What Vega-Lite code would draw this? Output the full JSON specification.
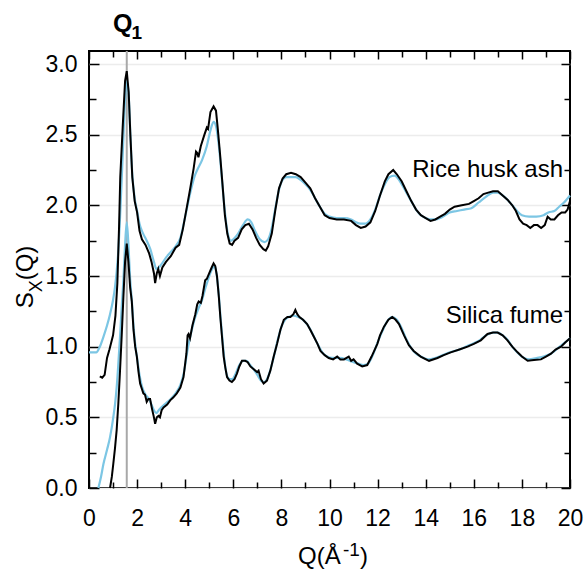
{
  "$schema": "https://vega.github.io/schema/vega-lite/v6.json",
  "width": 481,
  "height": 437,
  "autosize": "none",
  "padding": {"left": 89, "top": 51, "right": 15, "bottom": 87},
  "background": "white",
  "config": {
    "view": {"stroke": "black", "strokeWidth": 2},
    "font": "Liberation Sans",
    "axis": {"labelFont": "Liberation Sans", "labelFontSize": 23, "labelColor": "black", "tickColor": "black", "tickWidth": 1.5, "titleFont": "Liberation Sans", "titleColor": "black", "labelFlush": false, "labelOverlap": false, "labelBound": false}
  },
  "datasets": {
    "sx": [
      {"sample":"Rice husk ash","curve":"black","q":0.45,"s":0.79},{"sample":"Rice husk ash","curve":"black","q":0.55,"s":0.78},{"sample":"Rice husk ash","curve":"black","q":0.65,"s":0.8},{"sample":"Rice husk ash","curve":"black","q":0.75,"s":0.92},{"sample":"Rice husk ash","curve":"black","q":0.85,"s":0.98},{"sample":"Rice husk ash","curve":"black","q":1.0,"s":1.08},{"sample":"Rice husk ash","curve":"black","q":1.1,"s":1.22},{"sample":"Rice husk ash","curve":"black","q":1.18,"s":1.45},{"sample":"Rice husk ash","curve":"black","q":1.25,"s":1.85},{"sample":"Rice husk ash","curve":"black","q":1.3,"s":2.2},{"sample":"Rice husk ash","curve":"black","q":1.4,"s":2.55},{"sample":"Rice husk ash","curve":"black","q":1.5,"s":2.88},{"sample":"Rice husk ash","curve":"black","q":1.57,"s":2.95},{"sample":"Rice husk ash","curve":"black","q":1.65,"s":2.8},{"sample":"Rice husk ash","curve":"black","q":1.72,"s":2.5},{"sample":"Rice husk ash","curve":"black","q":1.8,"s":2.2},{"sample":"Rice husk ash","curve":"black","q":1.9,"s":2.03},{"sample":"Rice husk ash","curve":"black","q":2.0,"s":1.95},{"sample":"Rice husk ash","curve":"black","q":2.1,"s":1.82},{"sample":"Rice husk ash","curve":"black","q":2.2,"s":1.76},{"sample":"Rice husk ash","curve":"black","q":2.35,"s":1.72},{"sample":"Rice husk ash","curve":"black","q":2.5,"s":1.66},{"sample":"Rice husk ash","curve":"black","q":2.6,"s":1.6},{"sample":"Rice husk ash","curve":"black","q":2.7,"s":1.52},{"sample":"Rice husk ash","curve":"black","q":2.75,"s":1.45},{"sample":"Rice husk ash","curve":"black","q":2.82,"s":1.52},{"sample":"Rice husk ash","curve":"black","q":2.88,"s":1.55},{"sample":"Rice husk ash","curve":"black","q":2.95,"s":1.5},{"sample":"Rice husk ash","curve":"black","q":3.05,"s":1.56},{"sample":"Rice husk ash","curve":"black","q":3.2,"s":1.6},{"sample":"Rice husk ash","curve":"black","q":3.4,"s":1.64},{"sample":"Rice husk ash","curve":"black","q":3.6,"s":1.7},{"sample":"Rice husk ash","curve":"black","q":3.75,"s":1.72},{"sample":"Rice husk ash","curve":"black","q":3.9,"s":1.83},{"sample":"Rice husk ash","curve":"black","q":4.05,"s":1.97},{"sample":"Rice husk ash","curve":"black","q":4.2,"s":2.11},{"sample":"Rice husk ash","curve":"black","q":4.35,"s":2.26},{"sample":"Rice husk ash","curve":"black","q":4.45,"s":2.38},{"sample":"Rice husk ash","curve":"black","q":4.5,"s":2.37},{"sample":"Rice husk ash","curve":"black","q":4.55,"s":2.34},{"sample":"Rice husk ash","curve":"black","q":4.65,"s":2.42},{"sample":"Rice husk ash","curve":"black","q":4.8,"s":2.5},{"sample":"Rice husk ash","curve":"black","q":4.9,"s":2.55},{"sample":"Rice husk ash","curve":"black","q":4.95,"s":2.54},{"sample":"Rice husk ash","curve":"black","q":5.05,"s":2.66},{"sample":"Rice husk ash","curve":"black","q":5.18,"s":2.7},{"sample":"Rice husk ash","curve":"black","q":5.28,"s":2.67},{"sample":"Rice husk ash","curve":"black","q":5.35,"s":2.55},{"sample":"Rice husk ash","curve":"black","q":5.45,"s":2.36},{"sample":"Rice husk ash","curve":"black","q":5.55,"s":2.15},{"sample":"Rice husk ash","curve":"black","q":5.65,"s":1.93},{"sample":"Rice husk ash","curve":"black","q":5.75,"s":1.8},{"sample":"Rice husk ash","curve":"black","q":5.85,"s":1.73},{"sample":"Rice husk ash","curve":"black","q":5.95,"s":1.72},{"sample":"Rice husk ash","curve":"black","q":6.05,"s":1.75},{"sample":"Rice husk ash","curve":"black","q":6.2,"s":1.77},{"sample":"Rice husk ash","curve":"black","q":6.35,"s":1.83},{"sample":"Rice husk ash","curve":"black","q":6.5,"s":1.86},{"sample":"Rice husk ash","curve":"black","q":6.65,"s":1.87},{"sample":"Rice husk ash","curve":"black","q":6.8,"s":1.83},{"sample":"Rice husk ash","curve":"black","q":6.95,"s":1.77},{"sample":"Rice husk ash","curve":"black","q":7.1,"s":1.72},{"sample":"Rice husk ash","curve":"black","q":7.25,"s":1.69},{"sample":"Rice husk ash","curve":"black","q":7.35,"s":1.68},{"sample":"Rice husk ash","curve":"black","q":7.45,"s":1.71},{"sample":"Rice husk ash","curve":"black","q":7.6,"s":1.8},{"sample":"Rice husk ash","curve":"black","q":7.75,"s":1.97},{"sample":"Rice husk ash","curve":"black","q":7.9,"s":2.12},{"sample":"Rice husk ash","curve":"black","q":8.05,"s":2.19},{"sample":"Rice husk ash","curve":"black","q":8.2,"s":2.22},{"sample":"Rice husk ash","curve":"black","q":8.4,"s":2.23},{"sample":"Rice husk ash","curve":"black","q":8.6,"s":2.22},{"sample":"Rice husk ash","curve":"black","q":8.8,"s":2.2},{"sample":"Rice husk ash","curve":"black","q":9.0,"s":2.16},{"sample":"Rice husk ash","curve":"black","q":9.2,"s":2.12},{"sample":"Rice husk ash","curve":"black","q":9.4,"s":2.05},{"sample":"Rice husk ash","curve":"black","q":9.6,"s":1.99},{"sample":"Rice husk ash","curve":"black","q":9.8,"s":1.93},{"sample":"Rice husk ash","curve":"black","q":10.0,"s":1.91},{"sample":"Rice husk ash","curve":"black","q":10.3,"s":1.9},{"sample":"Rice husk ash","curve":"black","q":10.6,"s":1.9},{"sample":"Rice husk ash","curve":"black","q":10.9,"s":1.89},{"sample":"Rice husk ash","curve":"black","q":11.1,"s":1.86},{"sample":"Rice husk ash","curve":"black","q":11.3,"s":1.84},{"sample":"Rice husk ash","curve":"black","q":11.5,"s":1.85},{"sample":"Rice husk ash","curve":"black","q":11.7,"s":1.88},{"sample":"Rice husk ash","curve":"black","q":11.9,"s":1.96},{"sample":"Rice husk ash","curve":"black","q":12.1,"s":2.07},{"sample":"Rice husk ash","curve":"black","q":12.3,"s":2.17},{"sample":"Rice husk ash","curve":"black","q":12.45,"s":2.22},{"sample":"Rice husk ash","curve":"black","q":12.65,"s":2.25},{"sample":"Rice husk ash","curve":"black","q":12.8,"s":2.22},{"sample":"Rice husk ash","curve":"black","q":13.0,"s":2.17},{"sample":"Rice husk ash","curve":"black","q":13.2,"s":2.1},{"sample":"Rice husk ash","curve":"black","q":13.4,"s":2.03},{"sample":"Rice husk ash","curve":"black","q":13.6,"s":1.97},{"sample":"Rice husk ash","curve":"black","q":13.8,"s":1.93},{"sample":"Rice husk ash","curve":"black","q":14.0,"s":1.91},{"sample":"Rice husk ash","curve":"black","q":14.2,"s":1.89},{"sample":"Rice husk ash","curve":"black","q":14.4,"s":1.9},{"sample":"Rice husk ash","curve":"black","q":14.6,"s":1.92},{"sample":"Rice husk ash","curve":"black","q":14.8,"s":1.94},{"sample":"Rice husk ash","curve":"black","q":15.0,"s":1.97},{"sample":"Rice husk ash","curve":"black","q":15.2,"s":1.99},{"sample":"Rice husk ash","curve":"black","q":15.5,"s":2.0},{"sample":"Rice husk ash","curve":"black","q":15.8,"s":2.01},{"sample":"Rice husk ash","curve":"black","q":16.0,"s":2.03},{"sample":"Rice husk ash","curve":"black","q":16.2,"s":2.05},{"sample":"Rice husk ash","curve":"black","q":16.4,"s":2.08},{"sample":"Rice husk ash","curve":"black","q":16.6,"s":2.09},{"sample":"Rice husk ash","curve":"black","q":16.8,"s":2.1},{"sample":"Rice husk ash","curve":"black","q":17.0,"s":2.1},{"sample":"Rice husk ash","curve":"black","q":17.2,"s":2.07},{"sample":"Rice husk ash","curve":"black","q":17.4,"s":2.04},{"sample":"Rice husk ash","curve":"black","q":17.6,"s":2.0},{"sample":"Rice husk ash","curve":"black","q":17.75,"s":1.96},{"sample":"Rice husk ash","curve":"black","q":17.9,"s":1.9},{"sample":"Rice husk ash","curve":"black","q":18.05,"s":1.87},{"sample":"Rice husk ash","curve":"black","q":18.2,"s":1.86},{"sample":"Rice husk ash","curve":"black","q":18.35,"s":1.84},{"sample":"Rice husk ash","curve":"black","q":18.5,"s":1.86},{"sample":"Rice husk ash","curve":"black","q":18.65,"s":1.86},{"sample":"Rice husk ash","curve":"black","q":18.8,"s":1.84},{"sample":"Rice husk ash","curve":"black","q":18.95,"s":1.86},{"sample":"Rice husk ash","curve":"black","q":19.07,"s":1.92},{"sample":"Rice husk ash","curve":"black","q":19.2,"s":1.9},{"sample":"Rice husk ash","curve":"black","q":19.35,"s":1.9},{"sample":"Rice husk ash","curve":"black","q":19.5,"s":1.93},{"sample":"Rice husk ash","curve":"black","q":19.65,"s":1.95},{"sample":"Rice husk ash","curve":"black","q":19.8,"s":1.95},{"sample":"Rice husk ash","curve":"black","q":19.9,"s":1.97},{"sample":"Rice husk ash","curve":"black","q":20.0,"s":2.03},

      {"sample":"Rice husk ash","curve":"blue","q":0.0,"s":0.96},{"sample":"Rice husk ash","curve":"blue","q":0.3,"s":0.96},{"sample":"Rice husk ash","curve":"blue","q":0.45,"s":1.0},{"sample":"Rice husk ash","curve":"blue","q":0.6,"s":1.07},{"sample":"Rice husk ash","curve":"blue","q":0.75,"s":1.15},{"sample":"Rice husk ash","curve":"blue","q":0.875,"s":1.23},{"sample":"Rice husk ash","curve":"blue","q":1.0,"s":1.33},{"sample":"Rice husk ash","curve":"blue","q":1.08,"s":1.42},{"sample":"Rice husk ash","curve":"blue","q":1.15,"s":1.53},{"sample":"Rice husk ash","curve":"blue","q":1.22,"s":1.68},{"sample":"Rice husk ash","curve":"blue","q":1.3,"s":1.95},{"sample":"Rice husk ash","curve":"blue","q":1.4,"s":2.35},{"sample":"Rice husk ash","curve":"blue","q":1.5,"s":2.75},{"sample":"Rice husk ash","curve":"blue","q":1.57,"s":2.88},{"sample":"Rice husk ash","curve":"blue","q":1.65,"s":2.78},{"sample":"Rice husk ash","curve":"blue","q":1.72,"s":2.5},{"sample":"Rice husk ash","curve":"blue","q":1.8,"s":2.22},{"sample":"Rice husk ash","curve":"blue","q":1.9,"s":2.05},{"sample":"Rice husk ash","curve":"blue","q":2.0,"s":1.96},{"sample":"Rice husk ash","curve":"blue","q":2.1,"s":1.87},{"sample":"Rice husk ash","curve":"blue","q":2.25,"s":1.8},{"sample":"Rice husk ash","curve":"blue","q":2.4,"s":1.75},{"sample":"Rice husk ash","curve":"blue","q":2.55,"s":1.69},{"sample":"Rice husk ash","curve":"blue","q":2.7,"s":1.6},{"sample":"Rice husk ash","curve":"blue","q":2.8,"s":1.55},{"sample":"Rice husk ash","curve":"blue","q":2.9,"s":1.56},{"sample":"Rice husk ash","curve":"blue","q":3.0,"s":1.58},{"sample":"Rice husk ash","curve":"blue","q":3.2,"s":1.63},{"sample":"Rice husk ash","curve":"blue","q":3.4,"s":1.67},{"sample":"Rice husk ash","curve":"blue","q":3.6,"s":1.71},{"sample":"Rice husk ash","curve":"blue","q":3.8,"s":1.77},{"sample":"Rice husk ash","curve":"blue","q":4.0,"s":1.92},{"sample":"Rice husk ash","curve":"blue","q":4.2,"s":2.08},{"sample":"Rice husk ash","curve":"blue","q":4.4,"s":2.21},{"sample":"Rice husk ash","curve":"blue","q":4.5,"s":2.25},{"sample":"Rice husk ash","curve":"blue","q":4.7,"s":2.32},{"sample":"Rice husk ash","curve":"blue","q":4.9,"s":2.42},{"sample":"Rice husk ash","curve":"blue","q":5.05,"s":2.53},{"sample":"Rice husk ash","curve":"blue","q":5.18,"s":2.59},{"sample":"Rice husk ash","curve":"blue","q":5.28,"s":2.56},{"sample":"Rice husk ash","curve":"blue","q":5.38,"s":2.45},{"sample":"Rice husk ash","curve":"blue","q":5.48,"s":2.28},{"sample":"Rice husk ash","curve":"blue","q":5.58,"s":2.08},{"sample":"Rice husk ash","curve":"blue","q":5.7,"s":1.88},{"sample":"Rice husk ash","curve":"blue","q":5.8,"s":1.78},{"sample":"Rice husk ash","curve":"blue","q":5.9,"s":1.75},{"sample":"Rice husk ash","curve":"blue","q":6.0,"s":1.76},{"sample":"Rice husk ash","curve":"blue","q":6.2,"s":1.8},{"sample":"Rice husk ash","curve":"blue","q":6.4,"s":1.86},{"sample":"Rice husk ash","curve":"blue","q":6.6,"s":1.9},{"sample":"Rice husk ash","curve":"blue","q":6.75,"s":1.88},{"sample":"Rice husk ash","curve":"blue","q":6.9,"s":1.82},{"sample":"Rice husk ash","curve":"blue","q":7.1,"s":1.76},{"sample":"Rice husk ash","curve":"blue","q":7.3,"s":1.74},{"sample":"Rice husk ash","curve":"blue","q":7.45,"s":1.76},{"sample":"Rice husk ash","curve":"blue","q":7.6,"s":1.84},{"sample":"Rice husk ash","curve":"blue","q":7.75,"s":1.98},{"sample":"Rice husk ash","curve":"blue","q":7.9,"s":2.11},{"sample":"Rice husk ash","curve":"blue","q":8.05,"s":2.18},{"sample":"Rice husk ash","curve":"blue","q":8.2,"s":2.2},{"sample":"Rice husk ash","curve":"blue","q":8.4,"s":2.2},{"sample":"Rice husk ash","curve":"blue","q":8.6,"s":2.2},{"sample":"Rice husk ash","curve":"blue","q":8.8,"s":2.18},{"sample":"Rice husk ash","curve":"blue","q":9.0,"s":2.15},{"sample":"Rice husk ash","curve":"blue","q":9.2,"s":2.11},{"sample":"Rice husk ash","curve":"blue","q":9.4,"s":2.05},{"sample":"Rice husk ash","curve":"blue","q":9.6,"s":1.99},{"sample":"Rice husk ash","curve":"blue","q":9.8,"s":1.94},{"sample":"Rice husk ash","curve":"blue","q":10.0,"s":1.92},{"sample":"Rice husk ash","curve":"blue","q":10.3,"s":1.91},{"sample":"Rice husk ash","curve":"blue","q":10.6,"s":1.91},{"sample":"Rice husk ash","curve":"blue","q":10.9,"s":1.9},{"sample":"Rice husk ash","curve":"blue","q":11.1,"s":1.88},{"sample":"Rice husk ash","curve":"blue","q":11.3,"s":1.87},{"sample":"Rice husk ash","curve":"blue","q":11.5,"s":1.87},{"sample":"Rice husk ash","curve":"blue","q":11.7,"s":1.9},{"sample":"Rice husk ash","curve":"blue","q":11.9,"s":1.97},{"sample":"Rice husk ash","curve":"blue","q":12.1,"s":2.07},{"sample":"Rice husk ash","curve":"blue","q":12.3,"s":2.15},{"sample":"Rice husk ash","curve":"blue","q":12.5,"s":2.2},{"sample":"Rice husk ash","curve":"blue","q":12.7,"s":2.21},{"sample":"Rice husk ash","curve":"blue","q":12.85,"s":2.19},{"sample":"Rice husk ash","curve":"blue","q":13.0,"s":2.15},{"sample":"Rice husk ash","curve":"blue","q":13.2,"s":2.09},{"sample":"Rice husk ash","curve":"blue","q":13.4,"s":2.03},{"sample":"Rice husk ash","curve":"blue","q":13.6,"s":1.97},{"sample":"Rice husk ash","curve":"blue","q":13.8,"s":1.93},{"sample":"Rice husk ash","curve":"blue","q":14.0,"s":1.91},{"sample":"Rice husk ash","curve":"blue","q":14.2,"s":1.9},{"sample":"Rice husk ash","curve":"blue","q":14.4,"s":1.9},{"sample":"Rice husk ash","curve":"blue","q":14.6,"s":1.91},{"sample":"Rice husk ash","curve":"blue","q":14.8,"s":1.93},{"sample":"Rice husk ash","curve":"blue","q":15.0,"s":1.95},{"sample":"Rice husk ash","curve":"blue","q":15.3,"s":1.96},{"sample":"Rice husk ash","curve":"blue","q":15.6,"s":1.97},{"sample":"Rice husk ash","curve":"blue","q":15.9,"s":1.98},{"sample":"Rice husk ash","curve":"blue","q":16.2,"s":2.02},{"sample":"Rice husk ash","curve":"blue","q":16.5,"s":2.06},{"sample":"Rice husk ash","curve":"blue","q":16.8,"s":2.09},{"sample":"Rice husk ash","curve":"blue","q":17.0,"s":2.09},{"sample":"Rice husk ash","curve":"blue","q":17.2,"s":2.07},{"sample":"Rice husk ash","curve":"blue","q":17.4,"s":2.04},{"sample":"Rice husk ash","curve":"blue","q":17.6,"s":2.0},{"sample":"Rice husk ash","curve":"blue","q":17.8,"s":1.96},{"sample":"Rice husk ash","curve":"blue","q":18.0,"s":1.93},{"sample":"Rice husk ash","curve":"blue","q":18.3,"s":1.92},{"sample":"Rice husk ash","curve":"blue","q":18.6,"s":1.92},{"sample":"Rice husk ash","curve":"blue","q":18.9,"s":1.93},{"sample":"Rice husk ash","curve":"blue","q":19.1,"s":1.95},{"sample":"Rice husk ash","curve":"blue","q":19.35,"s":1.96},{"sample":"Rice husk ash","curve":"blue","q":19.55,"s":1.99},{"sample":"Rice husk ash","curve":"blue","q":19.75,"s":2.02},{"sample":"Rice husk ash","curve":"blue","q":20.0,"s":2.07},

      {"sample":"Silica fume","curve":"black","q":0.875,"s":0.0},{"sample":"Silica fume","curve":"black","q":0.95,"s":0.08},{"sample":"Silica fume","curve":"black","q":1.01,"s":0.17},{"sample":"Silica fume","curve":"black","q":1.08,"s":0.28},{"sample":"Silica fume","curve":"black","q":1.15,"s":0.41},{"sample":"Silica fume","curve":"black","q":1.22,"s":0.6},{"sample":"Silica fume","curve":"black","q":1.29,"s":0.83},{"sample":"Silica fume","curve":"black","q":1.36,"s":1.08},{"sample":"Silica fume","curve":"black","q":1.43,"s":1.35},{"sample":"Silica fume","curve":"black","q":1.5,"s":1.6},{"sample":"Silica fume","curve":"black","q":1.57,"s":1.73},{"sample":"Silica fume","curve":"black","q":1.64,"s":1.6},{"sample":"Silica fume","curve":"black","q":1.71,"s":1.42},{"sample":"Silica fume","curve":"black","q":1.78,"s":1.32},{"sample":"Silica fume","curve":"black","q":1.85,"s":1.12},{"sample":"Silica fume","curve":"black","q":1.92,"s":1.0},{"sample":"Silica fume","curve":"black","q":1.99,"s":0.93},{"sample":"Silica fume","curve":"black","q":2.06,"s":0.82},{"sample":"Silica fume","curve":"black","q":2.125,"s":0.74},{"sample":"Silica fume","curve":"black","q":2.2,"s":0.7},{"sample":"Silica fume","curve":"black","q":2.26,"s":0.67},{"sample":"Silica fume","curve":"black","q":2.33,"s":0.66},{"sample":"Silica fume","curve":"black","q":2.4,"s":0.61},{"sample":"Silica fume","curve":"black","q":2.47,"s":0.63},{"sample":"Silica fume","curve":"black","q":2.54,"s":0.63},{"sample":"Silica fume","curve":"black","q":2.62,"s":0.56},{"sample":"Silica fume","curve":"black","q":2.7,"s":0.5},{"sample":"Silica fume","curve":"black","q":2.75,"s":0.455},{"sample":"Silica fume","curve":"black","q":2.82,"s":0.5},{"sample":"Silica fume","curve":"black","q":2.89,"s":0.51},{"sample":"Silica fume","curve":"black","q":2.95,"s":0.5},{"sample":"Silica fume","curve":"black","q":3.02,"s":0.55},{"sample":"Silica fume","curve":"black","q":3.1,"s":0.57},{"sample":"Silica fume","curve":"black","q":3.25,"s":0.59},{"sample":"Silica fume","curve":"black","q":3.375,"s":0.62},{"sample":"Silica fume","curve":"black","q":3.5,"s":0.64},{"sample":"Silica fume","curve":"black","q":3.65,"s":0.67},{"sample":"Silica fume","curve":"black","q":3.8,"s":0.71},{"sample":"Silica fume","curve":"black","q":3.93,"s":0.785},{"sample":"Silica fume","curve":"black","q":4.05,"s":0.95},{"sample":"Silica fume","curve":"black","q":4.1,"s":1.08},{"sample":"Silica fume","curve":"black","q":4.14,"s":1.09},{"sample":"Silica fume","curve":"black","q":4.2,"s":1.06},{"sample":"Silica fume","curve":"black","q":4.3,"s":1.15},{"sample":"Silica fume","curve":"black","q":4.42,"s":1.23},{"sample":"Silica fume","curve":"black","q":4.5,"s":1.3},{"sample":"Silica fume","curve":"black","q":4.56,"s":1.32},{"sample":"Silica fume","curve":"black","q":4.65,"s":1.31},{"sample":"Silica fume","curve":"black","q":4.72,"s":1.36},{"sample":"Silica fume","curve":"black","q":4.83,"s":1.47},{"sample":"Silica fume","curve":"black","q":4.9,"s":1.48},{"sample":"Silica fume","curve":"black","q":5.0,"s":1.52},{"sample":"Silica fume","curve":"black","q":5.1,"s":1.56},{"sample":"Silica fume","curve":"black","q":5.18,"s":1.59},{"sample":"Silica fume","curve":"black","q":5.25,"s":1.57},{"sample":"Silica fume","curve":"black","q":5.32,"s":1.5},{"sample":"Silica fume","curve":"black","q":5.4,"s":1.35},{"sample":"Silica fume","curve":"black","q":5.46,"s":1.21},{"sample":"Silica fume","curve":"black","q":5.53,"s":1.07},{"sample":"Silica fume","curve":"black","q":5.6,"s":0.93},{"sample":"Silica fume","curve":"black","q":5.67,"s":0.85},{"sample":"Silica fume","curve":"black","q":5.74,"s":0.785},{"sample":"Silica fume","curve":"black","q":5.84,"s":0.76},{"sample":"Silica fume","curve":"black","q":5.94,"s":0.75},{"sample":"Silica fume","curve":"black","q":6.05,"s":0.77},{"sample":"Silica fume","curve":"black","q":6.15,"s":0.81},{"sample":"Silica fume","curve":"black","q":6.25,"s":0.86},{"sample":"Silica fume","curve":"black","q":6.36,"s":0.9},{"sample":"Silica fume","curve":"black","q":6.5,"s":0.9},{"sample":"Silica fume","curve":"black","q":6.6,"s":0.89},{"sample":"Silica fume","curve":"black","q":6.71,"s":0.86},{"sample":"Silica fume","curve":"black","q":6.85,"s":0.84},{"sample":"Silica fume","curve":"black","q":6.99,"s":0.82},{"sample":"Silica fume","curve":"black","q":7.05,"s":0.83},{"sample":"Silica fume","curve":"black","q":7.15,"s":0.77},{"sample":"Silica fume","curve":"black","q":7.26,"s":0.74},{"sample":"Silica fume","curve":"black","q":7.4,"s":0.76},{"sample":"Silica fume","curve":"black","q":7.54,"s":0.83},{"sample":"Silica fume","curve":"black","q":7.68,"s":0.93},{"sample":"Silica fume","curve":"black","q":7.82,"s":1.02},{"sample":"Silica fume","curve":"black","q":7.96,"s":1.12},{"sample":"Silica fume","curve":"black","q":8.1,"s":1.19},{"sample":"Silica fume","curve":"black","q":8.25,"s":1.21},{"sample":"Silica fume","curve":"black","q":8.375,"s":1.21},{"sample":"Silica fume","curve":"black","q":8.5,"s":1.23},{"sample":"Silica fume","curve":"black","q":8.58,"s":1.26},{"sample":"Silica fume","curve":"black","q":8.66,"s":1.23},{"sample":"Silica fume","curve":"black","q":8.75,"s":1.21},{"sample":"Silica fume","curve":"black","q":8.9,"s":1.19},{"sample":"Silica fume","curve":"black","q":9.07,"s":1.16},{"sample":"Silica fume","curve":"black","q":9.2,"s":1.12},{"sample":"Silica fume","curve":"black","q":9.35,"s":1.07},{"sample":"Silica fume","curve":"black","q":9.5,"s":1.02},{"sample":"Silica fume","curve":"black","q":9.625,"s":0.97},{"sample":"Silica fume","curve":"black","q":9.8,"s":0.94},{"sample":"Silica fume","curve":"black","q":9.97,"s":0.92},{"sample":"Silica fume","curve":"black","q":10.15,"s":0.91},{"sample":"Silica fume","curve":"black","q":10.32,"s":0.93},{"sample":"Silica fume","curve":"black","q":10.45,"s":0.91},{"sample":"Silica fume","curve":"black","q":10.6,"s":0.91},{"sample":"Silica fume","curve":"black","q":10.8,"s":0.93},{"sample":"Silica fume","curve":"black","q":10.9,"s":0.9},{"sample":"Silica fume","curve":"black","q":11.0,"s":0.91},{"sample":"Silica fume","curve":"black","q":11.15,"s":0.88},{"sample":"Silica fume","curve":"black","q":11.36,"s":0.86},{"sample":"Silica fume","curve":"black","q":11.57,"s":0.87},{"sample":"Silica fume","curve":"black","q":11.75,"s":0.93},{"sample":"Silica fume","curve":"black","q":11.99,"s":1.02},{"sample":"Silica fume","curve":"black","q":12.1,"s":1.08},{"sample":"Silica fume","curve":"black","q":12.26,"s":1.14},{"sample":"Silica fume","curve":"black","q":12.45,"s":1.19},{"sample":"Silica fume","curve":"black","q":12.61,"s":1.21},{"sample":"Silica fume","curve":"black","q":12.75,"s":1.19},{"sample":"Silica fume","curve":"black","q":12.89,"s":1.16},{"sample":"Silica fume","curve":"black","q":13.1,"s":1.08},{"sample":"Silica fume","curve":"black","q":13.3,"s":1.01},{"sample":"Silica fume","curve":"black","q":13.5,"s":0.97},{"sample":"Silica fume","curve":"black","q":13.79,"s":0.93},{"sample":"Silica fume","curve":"black","q":14.14,"s":0.9},{"sample":"Silica fume","curve":"black","q":14.49,"s":0.92},{"sample":"Silica fume","curve":"black","q":14.75,"s":0.94},{"sample":"Silica fume","curve":"black","q":15.04,"s":0.96},{"sample":"Silica fume","curve":"black","q":15.4,"s":0.98},{"sample":"Silica fume","curve":"black","q":15.74,"s":1.0},{"sample":"Silica fume","curve":"black","q":16.0,"s":1.02},{"sample":"Silica fume","curve":"black","q":16.29,"s":1.045},{"sample":"Silica fume","curve":"black","q":16.57,"s":1.09},{"sample":"Silica fume","curve":"black","q":16.8,"s":1.1},{"sample":"Silica fume","curve":"black","q":16.99,"s":1.1},{"sample":"Silica fume","curve":"black","q":17.2,"s":1.08},{"sample":"Silica fume","curve":"black","q":17.4,"s":1.045},{"sample":"Silica fume","curve":"black","q":17.6,"s":1.0},{"sample":"Silica fume","curve":"black","q":17.82,"s":0.96},{"sample":"Silica fume","curve":"black","q":18.0,"s":0.93},{"sample":"Silica fume","curve":"black","q":18.24,"s":0.9},{"sample":"Silica fume","curve":"black","q":18.5,"s":0.905},{"sample":"Silica fume","curve":"black","q":18.79,"s":0.91},{"sample":"Silica fume","curve":"black","q":19.0,"s":0.93},{"sample":"Silica fume","curve":"black","q":19.21,"s":0.95},{"sample":"Silica fume","curve":"black","q":19.4,"s":0.98},{"sample":"Silica fume","curve":"black","q":19.625,"s":1.0},{"sample":"Silica fume","curve":"black","q":19.8,"s":1.03},{"sample":"Silica fume","curve":"black","q":20.0,"s":1.06},

      {"sample":"Silica fume","curve":"blue","q":0.39,"s":0.0},{"sample":"Silica fume","curve":"blue","q":0.5,"s":0.08},{"sample":"Silica fume","curve":"blue","q":0.6,"s":0.17},{"sample":"Silica fume","curve":"blue","q":0.75,"s":0.27},{"sample":"Silica fume","curve":"blue","q":0.875,"s":0.36},{"sample":"Silica fume","curve":"blue","q":1.01,"s":0.5},{"sample":"Silica fume","curve":"blue","q":1.08,"s":0.59},{"sample":"Silica fume","curve":"blue","q":1.15,"s":0.71},{"sample":"Silica fume","curve":"blue","q":1.22,"s":0.88},{"sample":"Silica fume","curve":"blue","q":1.29,"s":1.07},{"sample":"Silica fume","curve":"blue","q":1.36,"s":1.28},{"sample":"Silica fume","curve":"blue","q":1.43,"s":1.47},{"sample":"Silica fume","curve":"blue","q":1.5,"s":1.72},{"sample":"Silica fume","curve":"blue","q":1.57,"s":1.88},{"sample":"Silica fume","curve":"blue","q":1.64,"s":1.72},{"sample":"Silica fume","curve":"blue","q":1.71,"s":1.48},{"sample":"Silica fume","curve":"blue","q":1.78,"s":1.33},{"sample":"Silica fume","curve":"blue","q":1.85,"s":1.15},{"sample":"Silica fume","curve":"blue","q":1.92,"s":1.02},{"sample":"Silica fume","curve":"blue","q":2.0,"s":0.92},{"sample":"Silica fume","curve":"blue","q":2.1,"s":0.8},{"sample":"Silica fume","curve":"blue","q":2.2,"s":0.72},{"sample":"Silica fume","curve":"blue","q":2.35,"s":0.66},{"sample":"Silica fume","curve":"blue","q":2.5,"s":0.63},{"sample":"Silica fume","curve":"blue","q":2.6,"s":0.59},{"sample":"Silica fume","curve":"blue","q":2.7,"s":0.55},{"sample":"Silica fume","curve":"blue","q":2.8,"s":0.53},{"sample":"Silica fume","curve":"blue","q":2.9,"s":0.55},{"sample":"Silica fume","curve":"blue","q":3.0,"s":0.57},{"sample":"Silica fume","curve":"blue","q":3.2,"s":0.6},{"sample":"Silica fume","curve":"blue","q":3.4,"s":0.63},{"sample":"Silica fume","curve":"blue","q":3.6,"s":0.67},{"sample":"Silica fume","curve":"blue","q":3.8,"s":0.73},{"sample":"Silica fume","curve":"blue","q":3.95,"s":0.82},{"sample":"Silica fume","curve":"blue","q":4.1,"s":0.98},{"sample":"Silica fume","curve":"blue","q":4.25,"s":1.1},{"sample":"Silica fume","curve":"blue","q":4.4,"s":1.2},{"sample":"Silica fume","curve":"blue","q":4.55,"s":1.27},{"sample":"Silica fume","curve":"blue","q":4.7,"s":1.33},{"sample":"Silica fume","curve":"blue","q":4.85,"s":1.42},{"sample":"Silica fume","curve":"blue","q":5.0,"s":1.5},{"sample":"Silica fume","curve":"blue","q":5.12,"s":1.55},{"sample":"Silica fume","curve":"blue","q":5.22,"s":1.57},{"sample":"Silica fume","curve":"blue","q":5.3,"s":1.52},{"sample":"Silica fume","curve":"blue","q":5.38,"s":1.4},{"sample":"Silica fume","curve":"blue","q":5.46,"s":1.23},{"sample":"Silica fume","curve":"blue","q":5.55,"s":1.05},{"sample":"Silica fume","curve":"blue","q":5.65,"s":0.88},{"sample":"Silica fume","curve":"blue","q":5.75,"s":0.79},{"sample":"Silica fume","curve":"blue","q":5.85,"s":0.77},{"sample":"Silica fume","curve":"blue","q":5.95,"s":0.77},{"sample":"Silica fume","curve":"blue","q":6.1,"s":0.81},{"sample":"Silica fume","curve":"blue","q":6.25,"s":0.87},{"sample":"Silica fume","curve":"blue","q":6.4,"s":0.9},{"sample":"Silica fume","curve":"blue","q":6.55,"s":0.9},{"sample":"Silica fume","curve":"blue","q":6.7,"s":0.87},{"sample":"Silica fume","curve":"blue","q":6.85,"s":0.84},{"sample":"Silica fume","curve":"blue","q":7.0,"s":0.8},{"sample":"Silica fume","curve":"blue","q":7.15,"s":0.76},{"sample":"Silica fume","curve":"blue","q":7.28,"s":0.75},{"sample":"Silica fume","curve":"blue","q":7.4,"s":0.77},{"sample":"Silica fume","curve":"blue","q":7.55,"s":0.84},{"sample":"Silica fume","curve":"blue","q":7.7,"s":0.94},{"sample":"Silica fume","curve":"blue","q":7.85,"s":1.05},{"sample":"Silica fume","curve":"blue","q":8.0,"s":1.14},{"sample":"Silica fume","curve":"blue","q":8.15,"s":1.19},{"sample":"Silica fume","curve":"blue","q":8.3,"s":1.21},{"sample":"Silica fume","curve":"blue","q":8.5,"s":1.22},{"sample":"Silica fume","curve":"blue","q":8.7,"s":1.21},{"sample":"Silica fume","curve":"blue","q":8.9,"s":1.19},{"sample":"Silica fume","curve":"blue","q":9.1,"s":1.15},{"sample":"Silica fume","curve":"blue","q":9.3,"s":1.09},{"sample":"Silica fume","curve":"blue","q":9.5,"s":1.02},{"sample":"Silica fume","curve":"blue","q":9.7,"s":0.96},{"sample":"Silica fume","curve":"blue","q":9.9,"s":0.93},{"sample":"Silica fume","curve":"blue","q":10.1,"s":0.92},{"sample":"Silica fume","curve":"blue","q":10.4,"s":0.92},{"sample":"Silica fume","curve":"blue","q":10.7,"s":0.91},{"sample":"Silica fume","curve":"blue","q":11.0,"s":0.89},{"sample":"Silica fume","curve":"blue","q":11.2,"s":0.88},{"sample":"Silica fume","curve":"blue","q":11.4,"s":0.87},{"sample":"Silica fume","curve":"blue","q":11.6,"s":0.88},{"sample":"Silica fume","curve":"blue","q":11.8,"s":0.94},{"sample":"Silica fume","curve":"blue","q":12.0,"s":1.03},{"sample":"Silica fume","curve":"blue","q":12.2,"s":1.11},{"sample":"Silica fume","curve":"blue","q":12.4,"s":1.18},{"sample":"Silica fume","curve":"blue","q":12.6,"s":1.21},{"sample":"Silica fume","curve":"blue","q":12.8,"s":1.19},{"sample":"Silica fume","curve":"blue","q":13.0,"s":1.13},{"sample":"Silica fume","curve":"blue","q":13.2,"s":1.05},{"sample":"Silica fume","curve":"blue","q":13.4,"s":0.99},{"sample":"Silica fume","curve":"blue","q":13.6,"s":0.95},{"sample":"Silica fume","curve":"blue","q":13.8,"s":0.93},{"sample":"Silica fume","curve":"blue","q":14.1,"s":0.91},{"sample":"Silica fume","curve":"blue","q":14.4,"s":0.92},{"sample":"Silica fume","curve":"blue","q":14.7,"s":0.94},{"sample":"Silica fume","curve":"blue","q":15.0,"s":0.96},{"sample":"Silica fume","curve":"blue","q":15.4,"s":0.98},{"sample":"Silica fume","curve":"blue","q":15.8,"s":1.01},{"sample":"Silica fume","curve":"blue","q":16.2,"s":1.04},{"sample":"Silica fume","curve":"blue","q":16.5,"s":1.08},{"sample":"Silica fume","curve":"blue","q":16.8,"s":1.1},{"sample":"Silica fume","curve":"blue","q":17.0,"s":1.1},{"sample":"Silica fume","curve":"blue","q":17.2,"s":1.08},{"sample":"Silica fume","curve":"blue","q":17.4,"s":1.05},{"sample":"Silica fume","curve":"blue","q":17.6,"s":1.0},{"sample":"Silica fume","curve":"blue","q":17.8,"s":0.96},{"sample":"Silica fume","curve":"blue","q":18.0,"s":0.93},{"sample":"Silica fume","curve":"blue","q":18.3,"s":0.91},{"sample":"Silica fume","curve":"blue","q":18.6,"s":0.92},{"sample":"Silica fume","curve":"blue","q":18.9,"s":0.93},{"sample":"Silica fume","curve":"blue","q":19.2,"s":0.95},{"sample":"Silica fume","curve":"blue","q":19.5,"s":0.99},{"sample":"Silica fume","curve":"blue","q":19.8,"s":1.03},{"sample":"Silica fume","curve":"blue","q":20.0,"s":1.06}
    ]
  },
  "layer": [
    {
      "data": {"values": [{}]},
      "mark": {"type": "rule", "color": "#a8a8a8", "strokeWidth": 2},
      "encoding": {
        "x": {"datum": 1.57, "type": "quantitative", "scale": {"domain": [0, 20], "nice": false, "zero": false}, "axis": null}
      }
    },
    {
      "data": {"name": "sx"},
      "transform": [{"filter": "datum.curve === 'blue'"}],
      "mark": {"type": "line", "color": "#7cc6e4", "strokeWidth": 2.2, "interpolate": "monotone"},
      "encoding": {
        "x": {"field": "q", "type": "quantitative", "scale": {"domain": [0, 20], "nice": false, "zero": false},
          "axis": {"orient": "bottom", "values": [0,1,2,3,4,5,6,7,8,9,10,11,12,13,14,15,16,17,18,19,20],
            "tickSize": {"condition": {"test": "datum.value % 2 === 0", "value": -9}, "value": -6},
            "labelExpr": "datum.value % 2 === 0 ? datum.label : ''", "labelPadding": 28, "domain": false, "grid": false,
            "title": null}},
        "y": {"field": "s", "type": "quantitative", "scale": {"domain": [0, 3.092], "nice": false, "zero": false},
          "axis": {"orient": "left", "values": [0,0.25,0.5,0.75,1,1.25,1.5,1.75,2,2.25,2.5,2.75,3],
            "tickSize": {"condition": {"test": "abs(datum.value*2 - round(datum.value*2)) < 0.001", "value": -10}, "value": -7},
            "labelExpr": "abs(datum.value*2 - round(datum.value*2)) < 0.001 ? format(datum.value, '.1f') : ''",
            "labelPadding": 22, "domain": false, "grid": true, "gridColor": "#ececec", "gridWidth": 1.5,
            "gridOpacity": {"condition": {"test": "abs(datum.value*2 - round(datum.value*2)) < 0.001", "value": 1}, "value": 0},
            "title": null}},
        "detail": {"field": "sample"}
      }
    },
    {
      "data": {"name": "sx"},
      "transform": [{"filter": "datum.curve === 'black'"}],
      "mark": {"type": "line", "color": "black", "strokeWidth": 2},
      "encoding": {
        "x": {"field": "q", "type": "quantitative", "scale": {"domain": [0, 20], "nice": false, "zero": false},
          "axis": {"orient": "top", "values": [0,1,2,3,4,5,6,7,8,9,10,11,12,13,14,15,16,17,18,19,20],
            "tickSize": {"condition": {"test": "datum.value % 2 === 0", "value": -8}, "value": -6},
            "labels": false, "domain": false, "grid": false, "title": null}},
        "y": {"field": "s", "type": "quantitative", "scale": {"domain": [0, 3.092], "nice": false, "zero": false},
          "axis": {"orient": "right", "values": [0,0.25,0.5,0.75,1,1.25,1.5,1.75,2,2.25,2.5,2.75,3],
            "tickSize": {"condition": {"test": "abs(datum.value*2 - round(datum.value*2)) < 0.001", "value": -9}, "value": -6},
            "labels": false, "domain": false, "grid": false, "title": null}},
        "detail": {"field": "sample"}
      }
    },
    {
      "data": {"values": [{}]},
      "mark": {"type": "text", "align": "right", "baseline": "middle", "fontSize": 24, "font": "Liberation Sans", "color": "black"},
      "encoding": {
        "x": {"datum": 19.71, "type": "quantitative", "scale": {"domain": [0, 20], "nice": false, "zero": false}, "axis": null},
        "y": {"datum": 2.25, "type": "quantitative", "scale": {"domain": [0, 3.092], "nice": false, "zero": false}, "axis": null},
        "text": {"value": "Rice husk ash"}
      }
    },
    {
      "data": {"values": [{}]},
      "mark": {"type": "text", "align": "right", "baseline": "middle", "fontSize": 24, "font": "Liberation Sans", "color": "black"},
      "encoding": {
        "x": {"datum": 19.71, "type": "quantitative", "scale": {"domain": [0, 20], "nice": false, "zero": false}, "axis": null},
        "y": {"datum": 1.22, "type": "quantitative", "scale": {"domain": [0, 3.092], "nice": false, "zero": false}, "axis": null},
        "text": {"value": "Silica fume"}
      }
    },
    {
      "data": {"values": [{}]},
      "mark": {"type": "text", "align": "center", "baseline": "alphabetic", "fontSize": 25, "fontWeight": "bold", "font": "Liberation Sans", "color": "black", "dx": -4},
      "encoding": {
        "x": {"datum": 1.57, "type": "quantitative", "scale": {"domain": [0, 20], "nice": false, "zero": false}, "axis": null},
        "y": {"datum": 3.224, "type": "quantitative", "scale": {"domain": [0, 3.092], "nice": false, "zero": false}, "axis": null},
        "text": {"value": "Q"}
      }
    },
    {
      "data": {"values": [{}]},
      "mark": {"type": "text", "align": "center", "baseline": "alphabetic", "fontSize": 19, "fontWeight": "bold", "font": "Liberation Sans", "color": "black", "dx": 10, "dy": 7},
      "encoding": {
        "x": {"datum": 1.57, "type": "quantitative", "scale": {"domain": [0, 20], "nice": false, "zero": false}, "axis": null},
        "y": {"datum": 3.224, "type": "quantitative", "scale": {"domain": [0, 3.092], "nice": false, "zero": false}, "axis": null},
        "text": {"value": "1"}
      }
    },
    {
      "data": {"values": [{}]},
      "mark": {"type": "text", "align": "left", "baseline": "alphabetic", "fontSize": 24, "font": "Liberation Sans", "color": "black"},
      "encoding": {
        "x": {"datum": 8.69, "type": "quantitative", "scale": {"domain": [0, 20], "nice": false, "zero": false}, "axis": null},
        "y": {"datum": -0.54, "type": "quantitative", "scale": {"domain": [0, 3.092], "nice": false, "zero": false}, "axis": null},
        "text": {"value": "Q(Å"}
      }
    },
    {
      "data": {"values": [{}]},
      "mark": {"type": "text", "align": "left", "baseline": "alphabetic", "fontSize": 19, "font": "Liberation Sans", "color": "black"},
      "encoding": {
        "x": {"datum": 10.56, "type": "quantitative", "scale": {"domain": [0, 20], "nice": false, "zero": false}, "axis": null},
        "y": {"datum": -0.483, "type": "quantitative", "scale": {"domain": [0, 3.092], "nice": false, "zero": false}, "axis": null},
        "text": {"value": "-1"}
      }
    },
    {
      "data": {"values": [{}]},
      "mark": {"type": "text", "align": "left", "baseline": "alphabetic", "fontSize": 24, "font": "Liberation Sans", "color": "black"},
      "encoding": {
        "x": {"datum": 11.27, "type": "quantitative", "scale": {"domain": [0, 20], "nice": false, "zero": false}, "axis": null},
        "y": {"datum": -0.54, "type": "quantitative", "scale": {"domain": [0, 3.092], "nice": false, "zero": false}, "axis": null},
        "text": {"value": ")"}
      }
    },
    {
      "data": {"values": [{}]},
      "mark": {"type": "text", "align": "center", "baseline": "alphabetic", "fontSize": 24, "angle": 270, "font": "Liberation Sans", "color": "black"},
      "encoding": {
        "x": {"datum": -2.33, "type": "quantitative", "scale": {"domain": [0, 20], "nice": false, "zero": false}, "axis": null},
        "y": {"datum": 1.328, "type": "quantitative", "scale": {"domain": [0, 3.092], "nice": false, "zero": false}, "axis": null},
        "text": {"value": "S"}
      }
    },
    {
      "data": {"values": [{}]},
      "mark": {"type": "text", "align": "center", "baseline": "alphabetic", "fontSize": 18, "angle": 270, "font": "Liberation Sans", "color": "black"},
      "encoding": {
        "x": {"datum": -1.954, "type": "quantitative", "scale": {"domain": [0, 20], "nice": false, "zero": false}, "axis": null},
        "y": {"datum": 1.427, "type": "quantitative", "scale": {"domain": [0, 3.092], "nice": false, "zero": false}, "axis": null},
        "text": {"value": "X"}
      }
    },
    {
      "data": {"values": [{}]},
      "mark": {"type": "text", "align": "center", "baseline": "alphabetic", "fontSize": 24, "angle": 270, "font": "Liberation Sans", "color": "black"},
      "encoding": {
        "x": {"datum": -2.33, "type": "quantitative", "scale": {"domain": [0, 20], "nice": false, "zero": false}, "axis": null},
        "y": {"datum": 1.592, "type": "quantitative", "scale": {"domain": [0, 3.092], "nice": false, "zero": false}, "axis": null},
        "text": {"value": "(Q)"}
      }
    }
  ],
  "resolve": {"axis": {"x": "independent", "y": "independent"}}
}
